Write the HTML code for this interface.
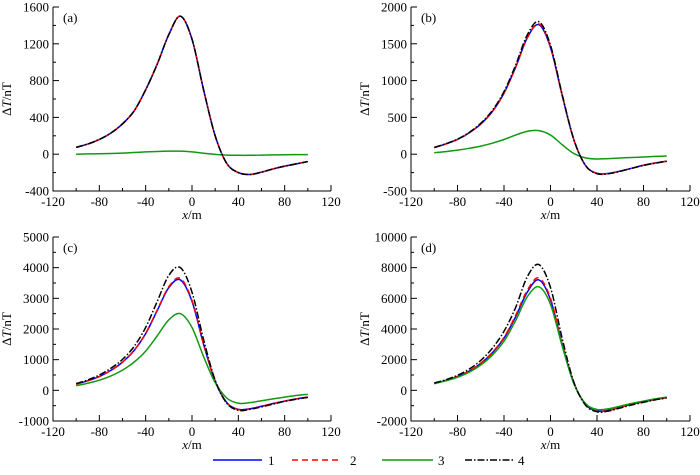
<!DOCTYPE html>
<html><head><meta charset="utf-8"><style>
body{margin:0;background:#fff}
svg, svg text{font-family:"Liberation Serif","Times New Roman",serif}
</style></head><body>
<svg id="chart" width="700" height="470" viewBox="0 0 700 470" font-family="Liberation Serif, serif"></svg>
<script>
const xs=[-100,-90,-80,-70,-60,-50,-40,-30,-20,-10,0,10,20,30,40,50,60,70,80,90,100];
const a1=[75,110,160,230,330,470,700,980,1300,1500,1250,700,200,-100,-200,-220,-195,-160,-130,-105,-80];
const a3=[0,3,5,8,12,18,25,30,33,33,25,10,-2,-10,-12,-12,-10,-8,-6,-5,-4];
const b1=[90,140,200,290,410,580,830,1180,1580,1760,1450,800,200,-150,-260,-260,-230,-190,-150,-120,-95];
const b2=[90,140,200,290,410,580,830,1180,1580,1770,1460,805,200,-150,-262,-262,-230,-190,-150,-120,-95];
const b3=[20,35,55,80,110,150,200,260,310,320,260,130,10,-50,-65,-60,-52,-45,-38,-30,-25];
const b4=[92,142,205,295,420,595,850,1210,1620,1800,1480,815,205,-150,-265,-265,-232,-192,-152,-122,-96];
const c1=[200,310,450,650,920,1300,1850,2600,3350,3600,2900,1500,300,-400,-620,-600,-520,-430,-350,-280,-220];
const c2=[200,310,450,650,920,1300,1860,2620,3380,3650,2930,1510,300,-400,-630,-610,-525,-435,-352,-282,-222];
const c3=[150,230,330,470,660,920,1280,1780,2300,2500,2050,1100,250,-250,-420,-400,-340,-280,-220,-170,-130];
const c4=[220,340,500,720,1010,1430,2050,2900,3750,4000,3200,1650,330,-420,-650,-620,-540,-450,-360,-290,-230];
const d1=[450,650,900,1250,1750,2450,3400,4800,6400,7200,5900,3000,500,-900,-1350,-1300,-1100,-900,-750,-600,-480];
const d2=[455,655,910,1265,1770,2480,3450,4880,6520,7330,6000,3050,510,-910,-1360,-1310,-1110,-905,-752,-602,-482];
const d3=[430,620,850,1180,1650,2300,3200,4550,6100,6750,5600,2900,450,-850,-1250,-1200,-1030,-850,-700,-560,-440];
const d4=[480,690,980,1380,1950,2750,3850,5400,7400,8200,6700,3400,550,-950,-1400,-1350,-1150,-950,-780,-620,-500];
const xTicks=[-120,-80,-40,0,40,80,120];
const aTicks=[-400,0,400,800,1200,1600];
const bTicks=[-500,0,500,1000,1500,2000];
const cTicks=[-1000,0,1000,2000,3000,4000,5000];
const dTicks=[-2000,0,2000,4000,6000,8000,10000];

const NS="http://www.w3.org/2000/svg";
const svg=document.getElementById('chart');
function mk(t,at,p){const e=document.createElementNS(NS,t);for(const k in at)e.setAttribute(k,at[k]);(p||svg).appendChild(e);return e;}
const FF='Liberation Serif, serif';
const styles={1:{stroke:'#0000ff',dash:''},2:{stroke:'#ff0000',dash:'6,4'},3:{stroke:'#109a10',dash:''},4:{stroke:'#000',dash:'7,2,1.5,2'}};
function path(pts){let d='M'+pts[0][0]+','+pts[0][1];
 for(let i=0;i<pts.length-1;i++){const p0=pts[i-1]||pts[i],p1=pts[i],p2=pts[i+1],p3=pts[i+2]||p2;
 d+=` C${p1[0]+(p2[0]-p0[0])/6},${p1[1]+(p2[1]-p0[1])/6} ${p2[0]-(p3[0]-p1[0])/6},${p2[1]-(p3[1]-p1[1])/6} ${p2[0]},${p2[1]}`;}return d;}
function panel(id,L,R,T,B,yt,series,label){
 const g=mk('g',{});
 const ymin=yt[0],ymax=yt[yt.length-1];
 const X=v=>L+(v+120)/240*(R-L), Y=v=>B-(v-ymin)/(ymax-ymin)*(B-T);
 const ax=mk('path',{d:`M${L},${T}V${B}H${R}`,stroke:'#000','stroke-width':1,fill:'none'},g);
 
 for(let v=-120;v<=120;v+=20){const maj=v%40===0;mk('line',{x1:X(v),x2:X(v),y1:B,y2:B-(maj?6:3),stroke:'#000'},g);
  if(maj){const t=mk('text',{x:X(v),y:B+15,'text-anchor':'middle','font-size':13,'font-family':FF},g);t.textContent=v;
  }}
 const st=(yt[1]-yt[0])/2;
 for(let v=ymin;v<=ymax+1e-6;v+=st){const maj=Math.round((v-ymin)/st)%2===0;mk('line',{x1:L,x2:L+(maj?6:3),y1:Y(v),y2:Y(v),stroke:'#000'},g);}
 yt.forEach(v=>{const t=mk('text',{x:L-4,y:Y(v)+4.5,'text-anchor':'end','font-size':13,'font-family':FF},g);t.textContent=v;
  });
 const xt=mk('text',{x:(L+R)/2,y:B+28,'text-anchor':'middle','font-size':13,'font-family':FF},g);xt.innerHTML='<tspan font-style="italic">x</tspan>/m';
 
 const yc=(T+B)/2,yx=L-42;
 const ytl=mk('text',{x:yx,y:yc,'text-anchor':'middle','font-size':13,'font-family':FF,transform:`rotate(-90 ${yx} ${yc})`},g);
 ytl.innerHTML='Δ<tspan font-style="italic">T</tspan>/nT';
 
 const lb=mk('text',{x:L+10,y:T+15,'font-size':13,'font-family':FF},g);lb.textContent=label;
 
 series.forEach(([k,arr])=>{const s=styles[k];
  const p=mk('path',{d:path(xs.map((x,i)=>[X(x),Y(arr[i])])),fill:'none',stroke:s.stroke,'stroke-width':1.5,'stroke-dasharray':s.dash},g);
  });
}
panel('a',53,331,7,191,aTicks,[[1,a1],[2,a1],[3,a3],[4,a1]],'(a)');
panel('b',411,690,7,191,bTicks,[[1,b1],[2,b2],[3,b3],[4,b4]],'(b)');
panel('c',53,331,237,421,cTicks,[[1,c1],[2,c2],[3,c3],[4,c4]],'(c)');
panel('d',411,690,237,421,dTicks,[[1,d1],[2,d2],[3,d3],[4,d4]],'(d)');
const leg=mk('g',{});
[[1,213,262,268],[2,292,341,350],[3,382,433,438],[4,465,513,518]].forEach(([k,x1,x2,tx])=>{const s=styles[k];
 const l=mk('line',{x1:x1,x2:x2,y1:460,y2:460,stroke:s.stroke,'stroke-width':1.5,'stroke-dasharray':s.dash},leg);
 
 const t=mk('text',{x:tx,y:465,'font-size':13,'font-family':FF},leg);t.textContent=k;
 });
</script>
</body></html>
